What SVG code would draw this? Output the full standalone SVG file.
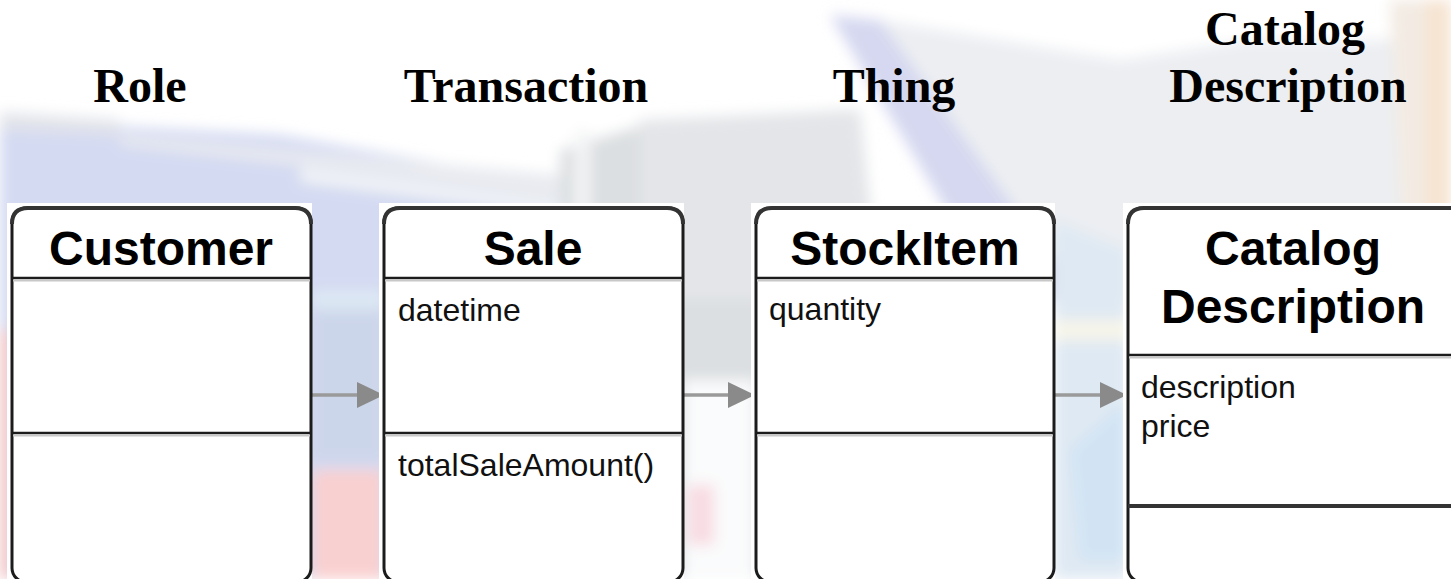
<svg xmlns="http://www.w3.org/2000/svg" width="1451" height="579" viewBox="0 0 1451 579">
<defs>
<filter id="blur" x="-20%" y="-20%" width="140%" height="140%"><feGaussianBlur stdDeviation="7"/></filter>
<marker id="arr" viewBox="0 0 27 26" refX="27" refY="13" markerWidth="27" markerHeight="26" markerUnits="userSpaceOnUse" orient="auto"><path d="M0,0 L27,13 L0,26 z" fill="#8a8a8a"/></marker>
<style>
.title{font-family:"Liberation Serif","Times New Roman",serif;font-weight:bold;font-size:48px;fill:#000;text-anchor:middle}
.hdr{font-family:"Liberation Sans",Arial,sans-serif;font-weight:bold;font-size:48px;fill:#000;text-anchor:middle}
.attr{font-family:"Liberation Sans",Arial,sans-serif;font-size:32px;fill:#111}
.box{fill:#fff;stroke:#1c1c1c;stroke-width:3}
.top{fill:none;stroke:#333;stroke-width:4}
.div{stroke:#1c1c1c;stroke-width:2.5}
.shadow{stroke:#c8c8c8;stroke-width:2}
.div2{stroke:#333;stroke-width:4}
.mat{fill:#fff}
.conn{stroke:#9a9a9a;stroke-width:3.5;fill:none}
</style>
</defs>
<g id="background">
<rect x="0" y="0" width="1451" height="579" fill="#fff"/>
<g filter="url(#blur)">
<polygon points="0,120 280,135 560,185 560,579 0,579" fill="#d4daf2"/>
<polygon points="0,112 120,120 120,135 0,130" fill="#e2e4ea"/>
<polygon points="120,135 560,175 560,200 300,165 120,145" fill="#e9ebf0"/>
<polygon points="300,168 560,202 560,215 300,182" fill="#f2f4f6"/>
<polygon points="560,150 660,120 850,110 870,579 560,579" fill="#dcdfe1"/>
<polygon points="575,130 590,130 590,300 575,300" fill="#f4f5f6"/>
<polygon points="640,120 860,110 880,300 640,300" fill="#e3e5e8"/>
<polygon points="830,15 880,20 1080,300 1000,300" fill="#d5d8f0"/>
<polygon points="880,20 1120,60 1250,40 1390,40 1451,0 1451,300 1080,300" fill="#eceef2"/>
<polygon points="1390,0 1451,0 1451,220 1400,220" fill="#f3ebe3"/>
<rect x="1425" y="0" width="26" height="220" fill="#f6e4d2"/>
<rect x="0" y="330" width="14" height="249" fill="#f3c6c6"/>
<rect x="312" y="300" width="72" height="160" fill="#ccd6ea"/>
<rect x="312" y="470" width="72" height="109" fill="#f9d0d0"/>
<rect x="312" y="290" width="72" height="20" fill="#dde8f4"/>
<rect x="683" y="380" width="73" height="199" fill="#fafbfc"/>
<rect x="688" y="485" width="26" height="60" fill="#f8dbe2"/>
<polygon points="1054,220 1128,250 1128,579 1054,579" fill="#dfe9f3"/>
<polygon points="1054,320 1128,320 1128,340 1054,340" fill="#f7f5e9"/>
<polygon points="1070,450 1128,400 1128,560 1080,560" fill="#d2e4f4"/>
</g>
</g>
<g id="titles">
<text class="title" x="140" y="102">Role</text>
<text class="title" x="526" y="102">Transaction</text>
<text class="title" x="894" y="102">Thing</text>
<text class="title" x="1285" y="45">Catalog</text>
<text class="title" x="1288" y="102">Description</text>
</g>
<g id="connectors">
<line class="conn" x1="312" y1="395" x2="384" y2="395" marker-end="url(#arr)"/>
<line class="conn" x1="684" y1="395" x2="755" y2="395" marker-end="url(#arr)"/>
<line class="conn" x1="1055" y1="395" x2="1127" y2="395" marker-end="url(#arr)"/>
</g>
<g id="customer">
<rect class="mat" x="7" y="203" width="305" height="376"/>
<rect class="box" x="12" y="208" width="299" height="374" rx="14"/>
<path class="top" d="M12,224 Q12,208 28,208 L295,208 Q311,208 311,224"/>
<line class="div" x1="12" y1="278" x2="311" y2="278"/>
<line class="shadow" x1="13" y1="280.5" x2="310" y2="280.5"/>
<line class="div" x1="12" y1="433" x2="311" y2="433"/>
<line class="shadow" x1="13" y1="435.5" x2="310" y2="435.5"/>
<text class="hdr" x="161" y="265">Customer</text>
</g>
<g id="sale">
<rect class="mat" x="379" y="203" width="305" height="376"/>
<rect class="box" x="384" y="208" width="299" height="374" rx="14"/>
<path class="top" d="M384,224 Q384,208 400,208 L667,208 Q683,208 683,224"/>
<line class="div" x1="384" y1="278" x2="683" y2="278"/>
<line class="shadow" x1="385" y1="280.5" x2="682" y2="280.5"/>
<line class="div" x1="384" y1="433" x2="683" y2="433"/>
<line class="shadow" x1="385" y1="435.5" x2="682" y2="435.5"/>
<text class="hdr" x="533" y="265">Sale</text>
<text class="attr" x="398" y="321">datetime</text>
<text class="attr" x="398" y="476">totalSaleAmount()</text>
</g>
<g id="stockitem">
<rect class="mat" x="751" y="203" width="304" height="376"/>
<rect class="box" x="756" y="208" width="298" height="374" rx="14"/>
<path class="top" d="M756,224 Q756,208 772,208 L1038,208 Q1054,208 1054,224"/>
<line class="div" x1="756" y1="278" x2="1054" y2="278"/>
<line class="shadow" x1="757" y1="280.5" x2="1053" y2="280.5"/>
<line class="div" x1="756" y1="433" x2="1054" y2="433"/>
<line class="shadow" x1="757" y1="435.5" x2="1053" y2="435.5"/>
<text class="hdr" x="905" y="265">StockItem</text>
<text class="attr" x="769" y="320">quantity</text>
</g>
<g id="catalog-description">
<rect class="mat" x="1123" y="203" width="340" height="376"/>
<rect class="box" x="1128" y="208" width="340" height="374" rx="14"/>
<path class="top" d="M1128,224 Q1128,208 1144,208 L1460,208"/>
<line class="div" x1="1128" y1="355" x2="1451" y2="355"/>
<line class="shadow" x1="1129" y1="357.5" x2="1451" y2="357.5"/>
<line class="div2" x1="1128" y1="506" x2="1451" y2="506"/>
<text class="hdr" x="1293" y="265">Catalog</text>
<text class="hdr" x="1293" y="323">Description</text>
<text class="attr" x="1141" y="398">description</text>
<text class="attr" x="1141" y="437">price</text>
</g>
</svg>
